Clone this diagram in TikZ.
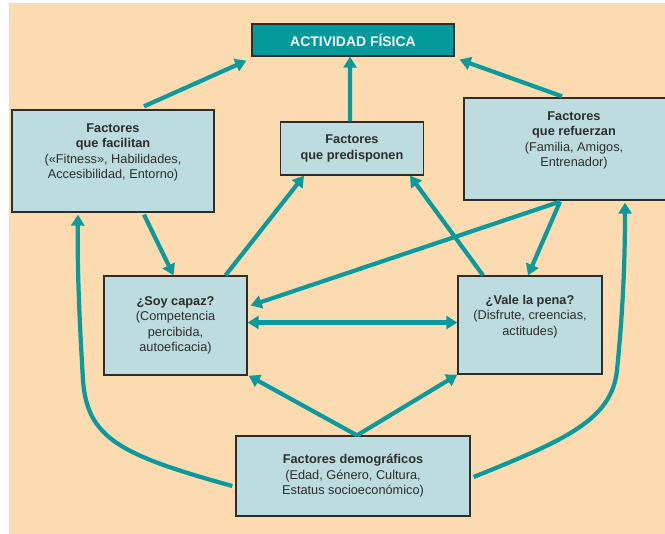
\documentclass[tikz,border=0pt]{standalone}
\usepackage{fontspec}
\setmainfont{Liberation Sans}
\usetikzlibrary{arrows.meta}
\definecolor{peach}{RGB}{253,219,176}
\definecolor{boxblue}{RGB}{189,220,223}
\definecolor{arrowteal}{RGB}{10,154,158}
\definecolor{titleteal}{RGB}{0,153,156}
\definecolor{inkgrey}{RGB}{45,45,45}
\tikzset{
  box/.style={draw=inkgrey, line width=1.3bp, fill=boxblue, align=center,
    text=inkgrey, font=\fontsize{12.8}{15.5}\selectfont, inner sep=0pt},
  titlebox/.style={draw=inkgrey, line width=1.3bp, fill=titleteal, text=white,
    font=\fontsize{14}{16}\selectfont\bfseries, inner sep=0pt},
  arr/.style={draw=arrowteal, line width=4.2bp, -{Triangle[length=11bp,width=13bp]}},
  darr/.style={draw=arrowteal, line width=4.2bp, {Triangle[length=11bp,width=13bp]}-{Triangle[length=11bp,width=13bp]}}
}
\begin{document}
\begin{tikzpicture}[x=1bp,y=-1bp]
     \useasboundingbox (0,0) rectangle (665,534);
     \fill[peach] (9,3) rectangle (665,534);
     \node[titlebox, minimum width=202bp, minimum height=32bp] (act) at (353,40) {ACTIVIDAD FÍSICA};
     \node[box, minimum width=202bp, minimum height=102bp] (facil) at (113,161)
       {\textbf{Factores}\\\textbf{que facilitan}\\(«Fitness», Habilidades,\\Accesibilidad, Entorno)\\\strut};
     \node[box, minimum width=143bp, minimum height=53bp] (predis) at (352,148.5)
       {\textbf{Factores}\\\textbf{que predisponen}};
     \node[box, minimum width=220bp, minimum height=102bp] (refuer) at (574,149)
       {\textbf{Factores}\\\textbf{que refuerzan}\\(Familia, Amigos,\\Entrenador)\\\strut};
     \node[box, minimum width=143bp, minimum height=99bp] (soy) at (175.5,325.5)
       {\textbf{¿Soy capaz?}\\(Competencia\\percibida,\\autoeficacia)};
     \node[box, minimum width=144bp, minimum height=98bp] (vale) at (530,325)
       {\textbf{¿Vale la pena?}\\(Disfrute, creencias,\\actitudes)\\\strut};
     \node[box, minimum width=234bp, minimum height=80bp] (demo) at (353,476)
       {\textbf{Factores demográficos}\\(Edad, Género, Cultura,\\Estatus socioeconómico)};

     \draw[arr] ([xshift=31bp,yshift=3bp]facil.north) -- ([xshift=-5bp,yshift=-4bp]act.south west);
     \draw[arr] ([xshift=-2bp]predis.north) -- ([xshift=-3bp]act.south);
     \draw[arr] ([xshift=-12bp,yshift=1bp]refuer.north) -- ([xshift=5bp,yshift=-3bp]act.south east);
     \draw[arr] ([xshift=31bp,yshift=-2bp]facil.south) -- ([xshift=-2bp]soy.north);
     \draw[arr] ([xshift=50bp]soy.north) -- ([xshift=-48bp]predis.south);
     \draw[arr] ([xshift=-47bp]vale.north) -- ([xshift=58bp]predis.south);
     \draw[arr] ([xshift=-14bp,yshift=-1bp]refuer.south) -- ([xshift=3bp,yshift=20bp]soy.east);
     \draw[arr] ([xshift=-14bp,yshift=-1bp]refuer.south) -- ([xshift=-2bp]vale.north);
     \draw[darr] ([yshift=3bp]soy.east) -- ([yshift=3bp]soy.east -| vale.west);
     \draw[arr] ([xshift=4bp]demo.north) -- ([xshift=1bp]soy.south east);
     \draw[arr] ([xshift=4bp]demo.north) -- (vale.south west);
     \draw[arr] ([xshift=-3bp,yshift=-10bp]demo.west) .. controls (120,455) and (87,438) .. (83,380)
       .. controls (80,330) and (77,270) .. ([xshift=-35bp,yshift=-2bp]facil.south);
     \draw[arr] ([xshift=3bp,yshift=-1bp]demo.east) .. controls (565,440) and (612,420) .. (617,370)
       .. controls (622,320) and (625,270) .. ([xshift=51bp,yshift=-2bp]refuer.south);
\end{tikzpicture}
\end{document}
